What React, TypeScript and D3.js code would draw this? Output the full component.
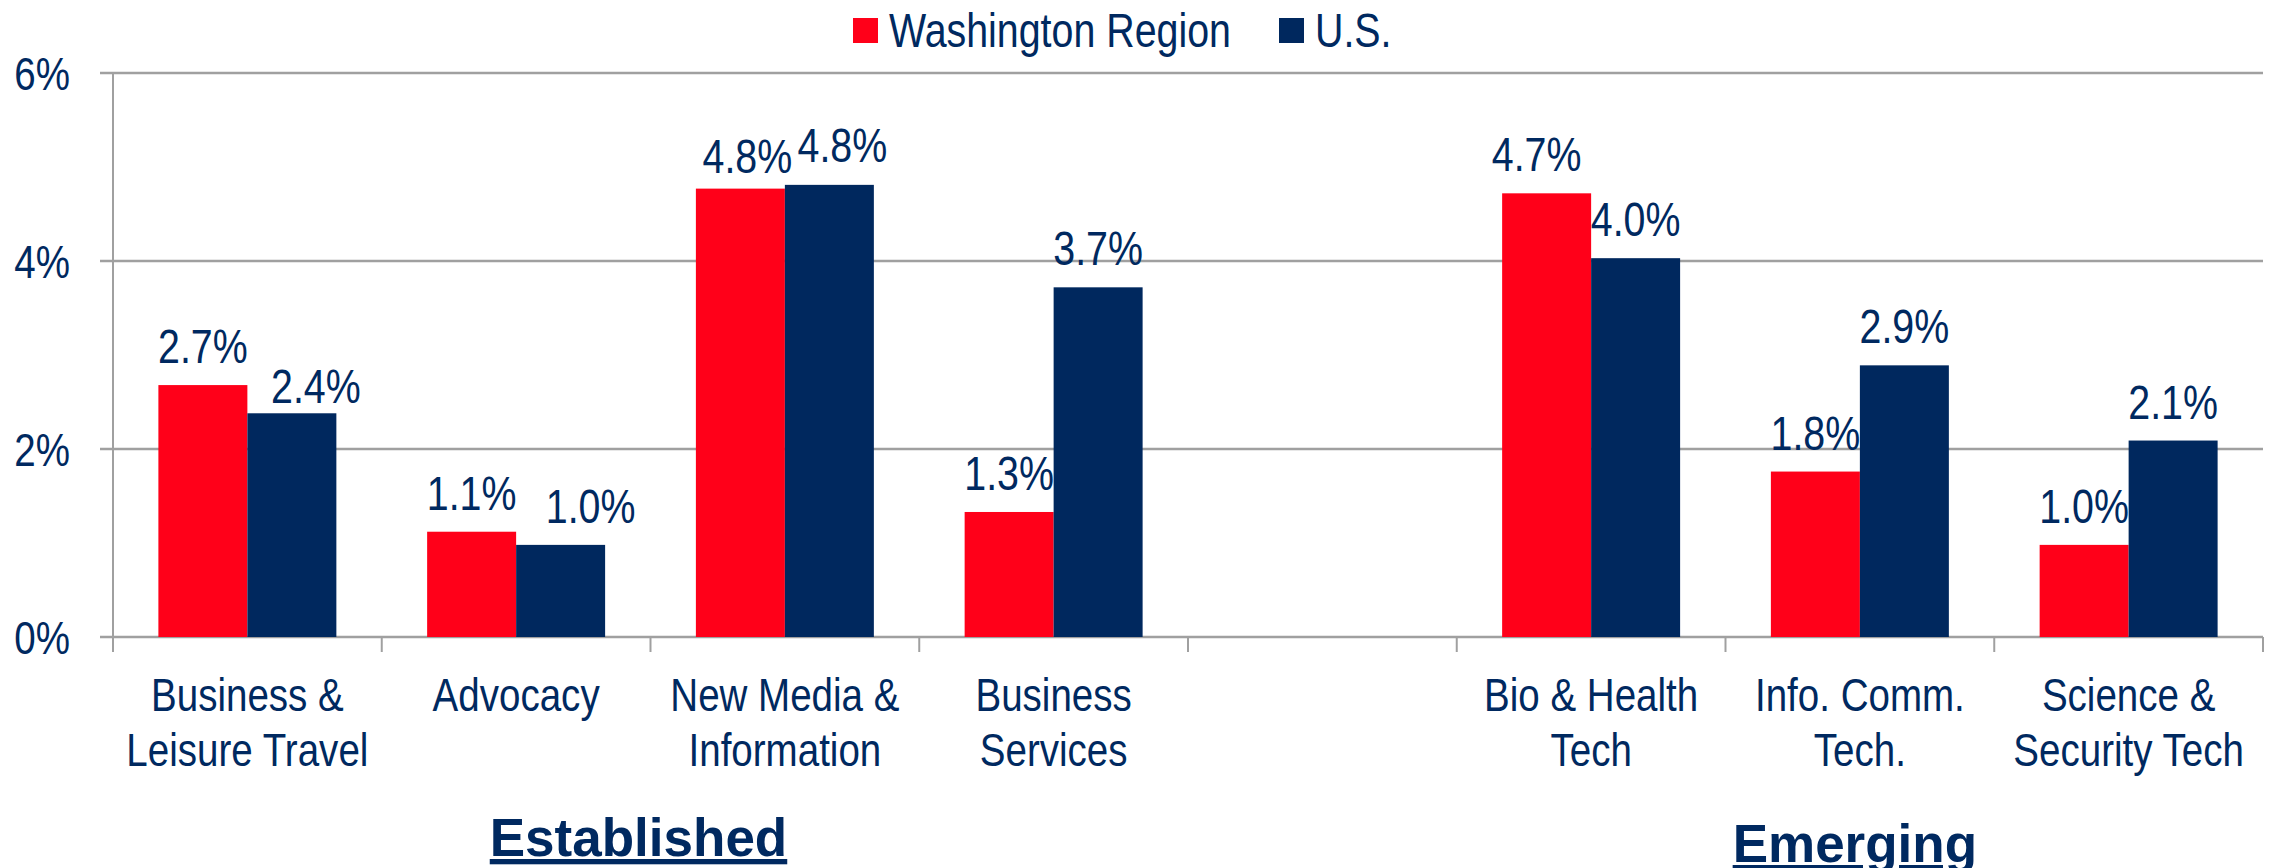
import React from 'react';
import * as d3 from 'd3';

// chart data
const categories = [
  'Business &|Leisure Travel',
  'Advocacy',
  'New Media &|Information',
  'Business|Services',
  '',
  'Bio & Health|Tech',
  'Info. Comm.|Tech.',
  'Science &|Security Tech',
];
const seriesNames = ['Washington Region', 'U.S.'];
const washington = [2.68, 1.12, 4.77, 1.33, null, 4.72, 1.76, 0.98];
const us = [2.38, 0.98, 4.81, 3.72, null, 4.03, 2.89, 2.09];
const yTicks = [0, 2, 4, 6];
const groupLabels = ['Established', 'Emerging'];
const groupFirst = [0, 5];
const groupLast = [3, 7];

// hand-moved data labels in the original, [dx, dy]
const washingtonNudge = [[0, 0], [0, 0], [7, 6], [0, 0], [0, 0], [-10, 0], [0, 0], [0, 0]];
const usNudge = [[24, 12], [30, 0], [13, -1], [0, 0], [0, 0], [0, 0], [0, 0], [0, 0]];

const width = 2272;
const height = 868;
const marginLeft = 113;
const marginRight = 9;
const marginTop = 73;
const marginBottom = 231;

const colors = ['#FF0019', '#00285E'];
const textColor = '#002960';
const gridColor = '#A0A0A0';
const sans = "'Liberation Sans', Arial, sans-serif";
const squeeze = 0.82; // no narrow font installed, so squeeze Liberation Sans

// condensed text: squeezed horizontally around its anchor point
function NText({ x, y, anchor = 'start', size = 48, lines }) {
  return (
    <text transform={`translate(${x},${y}) scale(${squeeze},1)`} textAnchor={anchor}
      fontFamily={sans} fontSize={size} fill={textColor}>
      {lines.map((line, j) => (
        <tspan key={j} x={0} dy={j === 0 ? 0 : 55}>{line}</tspan>
      ))}
    </text>
  );
}

function App() {
  const keys = categories.map((c, i) => 'c' + i);
  const x = d3.scaleBand()
    .domain(keys)
    .range([marginLeft, width - marginRight])
    .padding(0);
  const xs = d3.scaleBand()
    .domain(seriesNames)
    .range([0, x.bandwidth()])
    .paddingInner(0)
    .paddingOuter(0.51);
  const y = d3.scaleLinear()
    .domain([0, 6])
    .range([height - marginBottom, marginTop]);

  const series = [washington, us];
  const nudges = [washingtonNudge, usNudge];
  const y0 = y(0);
  const bounds = keys.map(k => x(k)).concat([width - marginRight]);

  return (
    <svg width={width} height={height} viewBox={`0 0 ${width} ${height}`}
      style={{ position: 'absolute', left: 0, top: 0, background: '#fff' }}>
      {/* gridlines */}
      {yTicks.map(t => (
        <g key={'g' + t}>
          <line x1={marginLeft - 13} x2={width - marginRight} y1={y(t)} y2={y(t)}
            stroke={gridColor} strokeWidth={2.5} />
          <NText x={70} y={y(t) + 17} anchor="end" size={47} lines={[`${t}%`]} />
        </g>
      ))}
      {/* y axis */}
      <line x1={marginLeft} x2={marginLeft} y1={y(6)} y2={y0 + 15} stroke={gridColor} strokeWidth={2} />
      {/* category ticks */}
      {bounds.map((b, i) => (
        <line key={'t' + i} x1={b} x2={b} y1={y0} y2={y0 + 15} stroke={gridColor} strokeWidth={2} />
      ))}
      {/* bars */}
      {series.map((s, si) => (
        <g key={'s' + si} fill={colors[si]}>
          {s.map((v, i) => v == null ? null : (
            <rect key={i} x={x(keys[i]) + xs(seriesNames[si])} width={xs.bandwidth()}
              y={y(v)} height={y0 - y(v)} />
          ))}
        </g>
      ))}
      {/* value labels */}
      {series.map((s, si) => (
        <g key={'l' + si}>
          {s.map((v, i) => v == null ? null : (
            <NText key={i}
              x={x(keys[i]) + xs(seriesNames[si]) + xs.bandwidth() / 2 + nudges[si][i][0]}
              y={y(v) - 22 + nudges[si][i][1]} anchor="middle" size={48}
              lines={[`${v.toFixed(1)}%`]} />
          ))}
        </g>
      ))}
      {/* category labels */}
      {categories.map((c, i) => (
        <NText key={'c' + i} x={x(keys[i]) + x.bandwidth() / 2} y={y0 + 74}
          anchor="middle" size={47} lines={c.split('|').filter(l => l)} />
      ))}
      {/* group labels */}
      {groupLabels.map((g, i) => {
        const cx = (x(keys[groupFirst[i]]) + x(keys[groupLast[i]]) + x.bandwidth()) / 2;
        return (
          <text key={g} x={cx + (i === 0 ? -12 : -5)} y={i === 0 ? 856 : 862} textAnchor="middle"
            fontFamily={sans} fontWeight="bold" fontSize={53}
            fill={textColor} textDecoration="underline">{g}</text>
        );
      })}
      {/* legend */}
      <g>
        <rect x={853} y={18} width={25} height={25} fill={colors[0]} />
        <NText x={889} y={47} size={48} lines={[seriesNames[0]]} />
        <rect x={1279} y={18} width={25} height={25} fill={colors[1]} />
        <NText x={1315} y={47} size={48} lines={[seriesNames[1]]} />
      </g>
    </svg>
  );
}

export default App;
